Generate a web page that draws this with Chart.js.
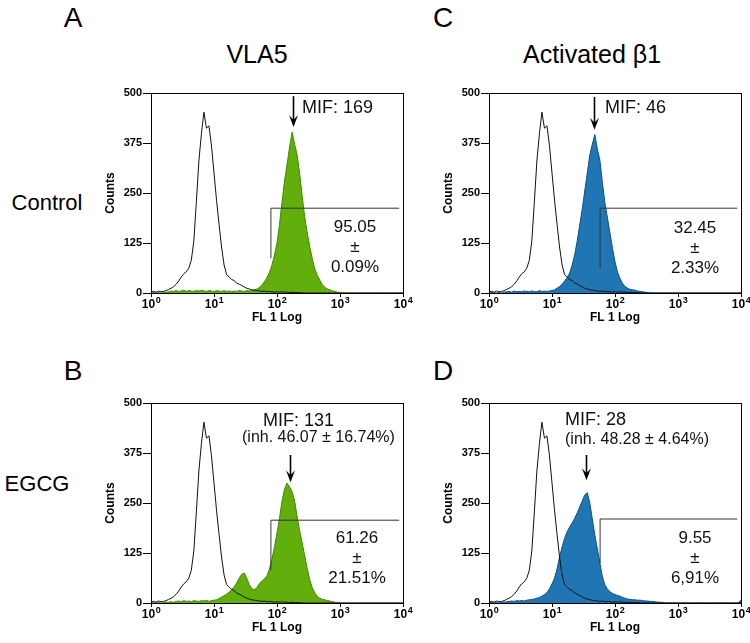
<!DOCTYPE html>
<html>
<head>
<meta charset="utf-8">
<script src="https://cdn.jsdelivr.net/npm/chart.js@4.4.0/dist/chart.umd.min.js"></script>
<style>
    body { margin: 0; background: #fff; }
    #page { position: relative; width: 750px; height: 643px; overflow: hidden;
            font-family: 'Liberation Sans', Arial, sans-serif; color: #000; }
    .lbl { position: absolute; white-space: nowrap; line-height: 1; transform: translate(-50%, -50%); }
    .panel { position: absolute; }
</style>
</head>
<body>
<div id="page">
    <div class="lbl" style="left:73px;top:18px;font-size:28px">A</div>
    <div class="lbl" style="left:443px;top:18px;font-size:28px">C</div>
    <div class="lbl" style="left:73px;top:371px;font-size:28px">B</div>
    <div class="lbl" style="left:443px;top:371px;font-size:28px">D</div>
    <div class="lbl" style="left:257px;top:54px;font-size:25px">VLA5</div>
    <div class="lbl" style="left:592px;top:54px;font-size:25px">Activated β1</div>
    <div class="lbl" style="left:47px;top:203px;font-size:22px">Control</div>
    <div class="lbl" style="left:37px;top:484px;font-size:22px">EGCG</div>

    <div class="panel" style="left:90px;top:80px"><canvas id="chartA" width="325" height="250"></canvas></div>
    <div class="panel" style="left:90px;top:390px"><canvas id="chartB" width="325" height="250"></canvas></div>
    <div class="panel" style="left:428px;top:80px"><canvas id="chartC" width="322" height="250"></canvas></div>
    <div class="panel" style="left:428px;top:390px"><canvas id="chartD" width="322" height="250"></canvas></div>
</div>

<script>
// FL1 channels, in decades (log10 of fluorescence)
const channelLog = [
    0, 0.04, 0.08, 0.12, 0.16, 0.2, 0.24, 0.28, 0.32, 0.36,
    0.4, 0.44, 0.48, 0.52, 0.56, 0.6, 0.64, 0.68, 0.72, 0.76,
    0.8, 0.84, 0.88, 0.92, 0.96, 1, 1.04, 1.08, 1.12, 1.16,
    1.2, 1.24, 1.28, 1.32, 1.36, 1.4, 1.44, 1.48, 1.52, 1.56,
    1.6, 1.64, 1.68, 1.72, 1.76, 1.8, 1.84, 1.88, 1.92, 1.96,
    2, 2.04, 2.08, 2.12, 2.16, 2.2, 2.24, 2.28, 2.32, 2.36,
    2.4, 2.44, 2.48, 2.52, 2.56, 2.6, 2.64, 2.68, 2.72, 2.76,
    2.8, 2.84, 2.88, 2.92, 2.96, 3, 3.04, 3.08, 3.12, 3.16,
    3.2, 3.24, 3.28, 3.32, 3.36, 3.4, 3.44, 3.48, 3.52, 3.56,
    3.6, 3.64, 3.68, 3.72, 3.76, 3.8, 3.84, 3.88, 3.92, 3.96,
    4
];

// isotype control (black outline, same in every panel)
const isotype = [
    3, 4, 2, 5, 3, 4, 6, 9, 12, 16,
    22, 30, 40, 48, 53, 62, 82, 130, 228, 330,
    398, 452, 412, 418, 368, 300, 232, 172, 115, 70,
    46, 40, 34, 31, 25, 22, 19, 15, 12, 10,
    8, 7, 6, 5, 4, 5, 3, 4, 3, 2,
    3, 2, 3, 2, 2, 1, 2, 1, 1, 1,
    0, 0, 0, 0, 0, 0, 0, 0, 0, 0,
    0, 0, 0, 0, 0, 0, 0, 0, 0, 0,
    0, 0, 0, 0, 0, 0, 0, 0, 0, 0,
    0, 0, 0, 0, 0, 0, 0, 0, 0, 0,
    0
];

// A: VLA5, control
const vla5Control = [
    0, 1, 0, 1, 0, 1, 2, 3, 5, 4,
    6, 4, 5, 7, 4, 6, 5, 4, 6, 5,
    7, 5, 4, 6, 5, 3, 6, 5, 4, 6,
    4, 5, 3, 5, 4, 6, 5, 4, 6, 5,
    6, 8, 10, 14, 20, 28, 38, 52, 70, 95,
    125, 172, 228, 280, 322, 365, 402, 372, 345, 298,
    242, 190, 150, 116, 86, 60, 44, 32, 21, 14,
    10, 8, 5, 4, 2, 1, 0, 0, 0, 0,
    0, 0, 0, 0, 0, 0, 0, 0, 0, 0,
    0, 0, 0, 0, 0, 0, 0, 0, 0, 0,
    0
];

// B: VLA5, EGCG
const vla5Egcg = [
    0, 1, 0, 1, 0, 1, 2, 2, 3, 2,
    4, 5, 3, 6, 4, 5, 3, 6, 5, 4,
    6, 5, 7, 4, 6, 7, 8, 11, 15, 18,
    22, 27, 33, 40, 50, 62, 72, 75, 62, 46,
    36, 33, 38, 48, 55, 60, 68, 85, 110, 140,
    175, 212, 255, 285, 300, 290, 278, 255, 215, 180,
    150, 118, 86, 58, 38, 25, 16, 12, 9, 8,
    6, 5, 3, 2, 1, 0, 0, 0, 0, 0,
    0, 0, 0, 0, 0, 0, 0, 0, 0, 0,
    0, 0, 0, 0, 0, 0, 0, 0, 0, 0,
    0
];

// C: activated beta1, control
const b1Control = [
    0, 1, 0, 0, 1, 0, 2, 3, 4, 2,
    5, 3, 4, 3, 5, 4, 3, 5, 4, 3,
    6, 4, 5, 4, 5, 6, 8, 12, 16, 22,
    30, 38, 50, 70, 95, 130, 170, 210, 255, 300,
    345, 372, 396, 360, 332, 276, 225, 188, 150, 112,
    78, 52, 36, 24, 16, 12, 9, 8, 7, 5,
    4, 3, 2, 1, 0, 0, 0, 0, 0, 0,
    0, 0, 0, 0, 0, 0, 0, 0, 0, 0,
    0, 0, 0, 0, 0, 0, 0, 0, 0, 0,
    0, 0, 0, 0, 0, 0, 0, 0, 0, 0,
    0
];

// D: activated beta1, EGCG
const b1Egcg = [
    0, 1, 0, 1, 0, 2, 2, 3, 4, 5,
    4, 6, 5, 6, 5, 7, 8, 9, 10, 12,
    14, 17, 21, 26, 35, 48, 62, 85, 115, 140,
    162, 178, 190, 200, 212, 225, 240, 255, 270, 276,
    250, 210, 170, 135, 100, 65, 45, 35, 28, 24,
    21, 19, 17, 14, 12, 10, 9, 8, 8, 7,
    7, 6, 5, 5, 4, 4, 3, 2, 2, 1,
    0, 0, 0, 0, 0, 0, 0, 0, 0, 0,
    0, 0, 0, 0, 0, 0, 0, 0, 0, 0,
    0, 0, 0, 0, 0, 0, 0, 0, 0, 0,
    8
];

const xTicks = [1, 10, 100, 1000, 10000];

// per panel A, C, B, D
const mifLabels = ['MIF: 169', 'MIF: 46', 'MIF: 131', 'MIF: 28'];
const inhLabels = ['', '', '(inh. 46.07 ± 16.74%)', '(inh. 48.28 ± 4.64%)'];
const gatePercent = [['95.05', '±', '0.09%'], ['32.45', '±', '2.33%'], ['61.26', '±', '21.51%'], ['9.55', '±', '6,91%']];
const gateStart = [80, 58, 80, 58];
const gateFloor = [87, 62, 82, 100];
const gateLevel = [212, 212, 207, 210];
const gateEnd = 8700;
const arrowX = [178, 46, 161, 35];
const arrowTop = [492, 490, 370, 370];
const arrowTip = [415, 408, 302, 307];

const green = { fill: '#62ae0c', edge: '#3d8a00' };
const blue = { fill: '#1f76b3', edge: '#0f4f86' };

// text offsets from the plot's top-left corner
const panels = [
    { canvas: 'chartA', values: vla5Control, color: green, padRight: 12, mif: [151, 15], inh: null, pct: [204, 134] },
    { canvas: 'chartC', values: b1Control, color: blue, padRight: 9, mif: [116, 15], inh: null, pct: [206, 135] },
    { canvas: 'chartB', values: vla5Egcg, color: green, padRight: 12, mif: [112, 18], inh: [91, 35], pct: [206, 135] },
    { canvas: 'chartD', values: b1Egcg, color: blue, padRight: 9, mif: [76, 17], inh: [76, 37], pct: [206, 135] }
];
const panelIndex = {};
panels.forEach((p, i) => { panelIndex[p.canvas] = i; });

function toPoints(values) {
    return channelLog.map((e, i) => ({ x: Math.pow(10, e), y: values[i] }));
}

const panelDecor = {
    id: 'panelDecor',
    afterDatasetsDraw(chart) {
        const i = panelIndex[chart.canvas.id];
        const p = panels[i];
        const { ctx, chartArea: a, scales: { x, y } } = chart;
        ctx.save();
        ctx.strokeStyle = '#000';
        ctx.lineWidth = 1;
        ctx.strokeRect(Math.round(a.left) + 0.5, Math.round(a.top) + 0.5,
            Math.round(a.right - a.left), Math.round(a.bottom - a.top));

        // decade labels with superscripts
        ctx.fillStyle = '#000';
        ctx.textBaseline = 'alphabetic';
        ctx.textAlign = 'left';
        const big = 'bold 12px "Liberation Sans", Arial, sans-serif';
        const small = 'bold 9px "Liberation Sans", Arial, sans-serif';
        xTicks.forEach(v => {
            const px = x.getPixelForValue(v);
            const exp = String(Math.round(Math.log10(v)));
            ctx.font = big;
            const w1 = ctx.measureText('10').width;
            ctx.font = small;
            const w2 = ctx.measureText(exp).width;
            const start = px - (w1 + w2) / 2;
            ctx.font = big;
            ctx.fillText('10', start, a.bottom + 15);
            ctx.font = small;
            ctx.fillText(exp, start + w1 + 0.5, a.bottom + 10);
        });

        // arrow at the MIF
        const ax = Math.round(x.getPixelForValue(arrowX[i])) + 0.5;
        const y0 = y.getPixelForValue(arrowTop[i]);
        const y1 = y.getPixelForValue(arrowTip[i]);
        ctx.lineWidth = 1.6;
        ctx.beginPath();
        ctx.moveTo(ax, y0);
        ctx.lineTo(ax, y1 - 6);
        ctx.stroke();
        ctx.beginPath();
        ctx.moveTo(ax, y1);
        ctx.lineTo(ax - 4.5, y1 - 12);
        ctx.lineTo(ax, y1 - 7);
        ctx.lineTo(ax + 4.5, y1 - 12);
        ctx.closePath();
        ctx.fill();

        // labels
        ctx.fillStyle = '#111';
        ctx.textBaseline = 'middle';
        ctx.textAlign = 'left';
        ctx.font = '18px "Liberation Sans", Arial, sans-serif';
        ctx.fillText(mifLabels[i], a.left + p.mif[0], a.top + p.mif[1]);
        if (p.inh) {
            ctx.font = '16px "Liberation Sans", Arial, sans-serif';
            ctx.fillText(inhLabels[i], a.left + p.inh[0], a.top + p.inh[1]);
        }
        ctx.textAlign = 'center';
        ctx.font = '17px "Liberation Sans", Arial, sans-serif';
        gatePercent[i].forEach((t, k) => {
            ctx.fillText(t, a.left + p.pct[0], a.top + p.pct[1] + k * 20);
        });
        ctx.restore();
    }
};

Chart.defaults.font.family = "'Liberation Sans', Arial, sans-serif";
Chart.defaults.color = '#000';

document.addEventListener('DOMContentLoaded', () => {
    panels.forEach((p, i) => {
        const ctx = document.getElementById(p.canvas).getContext('2d');
        new Chart(ctx, {
            type: 'line',
            data: {
                datasets: [
                    {
                        label: 'isotype',
                        data: toPoints(isotype),
                        borderColor: '#111',
                        borderWidth: 1,
                        pointRadius: 0,
                        fill: false,
                        order: 0
                    },
                    {
                        label: 'gate',
                        data: [
                            { x: gateStart[i], y: gateFloor[i] },
                            { x: gateStart[i], y: gateLevel[i] },
                            { x: gateEnd, y: gateLevel[i] }
                        ],
                        borderColor: '#333',
                        borderWidth: 1,
                        pointRadius: 0,
                        fill: false,
                        order: 1
                    },
                    {
                        label: 'stained',
                        data: toPoints(p.values),
                        borderColor: p.color.edge,
                        backgroundColor: p.color.fill,
                        borderWidth: 1,
                        pointRadius: 0,
                        fill: 'origin',
                        order: 2
                    }
                ]
            },
            options: {
                responsive: false,
                animation: false,
                layout: { padding: { top: 13, right: p.padRight, left: 0, bottom: 0 } },
                plugins: {
                    legend: { display: false },
                    tooltip: { enabled: false }
                },
                scales: {
                    x: {
                        type: 'logarithmic',
                        min: 1,
                        max: 10000,
                        afterBuildTicks: s => { s.ticks = xTicks.map(v => ({ value: v })); },
                        afterFit: s => { s.height = 37; },
                        ticks: { display: false },
                        grid: { drawOnChartArea: false, drawTicks: true, tickLength: 4, color: '#000' },
                        border: { color: '#000' },
                        title: {
                            display: true, text: 'FL 1 Log', color: '#000',
                            font: { size: 12, weight: 'bold' },
                            padding: { top: 0, bottom: 5 }
                        }
                    },
                    y: {
                        min: 0,
                        max: 500,
                        afterFit: s => { s.width = 61; },
                        ticks: { stepSize: 125, padding: 1, color: '#000', font: { size: 11, weight: 'bold' } },
                        grid: { drawOnChartArea: false, tickLength: 8, color: '#000' },
                        border: { color: '#000' },
                        title: {
                            display: true, text: 'Counts', color: '#000',
                            font: { size: 12, weight: 'bold' },
                            padding: { top: 13, bottom: 0 }
                        }
                    }
                }
            },
            plugins: [panelDecor]
        });
    });
});
</script>
</body>
</html>
